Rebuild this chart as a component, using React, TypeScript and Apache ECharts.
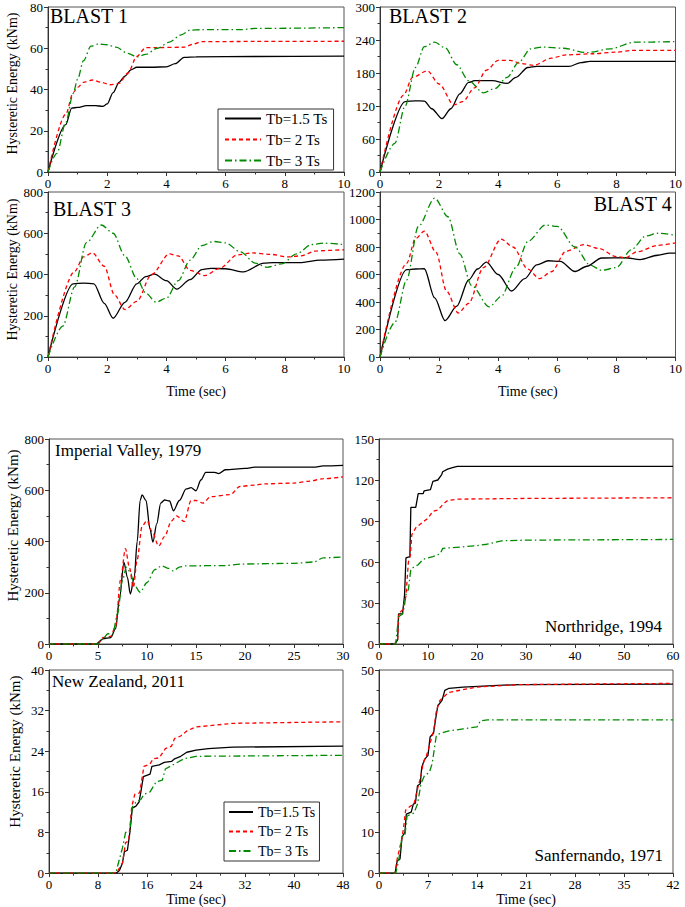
import React, { useEffect, useRef } from "react";
import * as echarts from "echarts";

type Pt = [number, number];

const seriesNames = ["Tb=1.5 Ts", "Tb= 2 Ts", "Tb= 3 Ts"];
const panelTitles = [
  "BLAST 1",
  "BLAST 2",
  "BLAST 3",
  "BLAST 4",
  "Imperial Valley, 1979",
  "Northridge, 1994",
  "New Zealand, 2011",
  "Sanfernando, 1971",
];

// BLAST 1
const blast1Tb15: Pt[] = [[0,0],[0.6,23],[0.8,31],[1.0,31.3],[1.3,32.2],[1.6,32.2],[1.85,31.8],[2.0,33],[2.2,38.5],[2.4,43.5],[2.6,46.5],[2.8,49.5],[3.0,50.8],[3.5,50.8],[4.0,51],[4.3,52.5],[4.6,55.6],[5,55.8],[7,56],[10,56.2]];
const blast1Tb2: Pt[] = [[0,0],[0.6,28],[0.85,38.5],[1.0,41],[1.2,43.5],[1.5,44.6],[1.8,43.5],[2.1,42.3],[2.4,43],[2.7,48],[3.0,56],[3.3,60.3],[3.6,60.3],[4.6,60.5],[4.9,62],[5.2,63.2],[7,63.3],[10,63.4]];
const blast1Tb3: Pt[] = [[0,0],[0.3,9],[0.6,24],[0.85,38],[1.0,45],[1.2,54],[1.45,61],[1.7,62],[2.0,61.7],[2.3,60.5],[2.7,57.5],[3.0,55.8],[3.3,57],[3.7,60],[4.1,63],[4.5,66.5],[4.8,68.8],[5.2,69],[6.5,69],[7,69.6],[10,70]];

// BLAST 2
const blast2Tb15: Pt[] = [[0,0],[0.85,128],[1.2,129.5],[1.5,129],[1.75,115],[2.1,97],[2.4,115],[2.7,142],[3.0,163],[3.2,166],[3.8,166],[4.3,161],[4.6,172],[5.0,190],[5.3,192],[6.4,192],[6.8,199],[7.1,201],[10,201]];
const blast2Tb2: Pt[] = [[0,0],[0.8,140],[1.1,172],[1.6,184],[2.0,160],[2.5,122],[2.8,128],[3.2,153],[3.6,185],[4.0,203],[4.4,203],[4.8,197],[5.2,194],[5.8,207],[6.3,213],[7.2,215],[8.0,218],[8.5,221],[10,221]];
const blast2Tb3: Pt[] = [[0,0],[0.5,52],[0.85,120],[1.2,190],[1.5,228],[1.85,236],[2.2,226],[2.6,195],[3.0,166],[3.5,144],[3.9,152],[4.3,172],[4.7,200],[5.1,224],[5.5,227],[6.2,225],[7.0,217],[7.8,224],[8.6,236],[10,237]];

// BLAST 3
const blast3Tb15: Pt[] = [[0,0],[0.85,355],[1.2,358],[1.55,355],[1.9,260],[2.2,188],[2.6,265],[3.0,355],[3.3,390],[3.6,402],[4.0,370],[4.35,329],[4.8,375],[5.2,424],[5.5,430],[6.0,428],[6.6,413],[7.3,455],[7.6,458],[8.5,458],[9.2,470],[10,475]];
const blast3Tb2: Pt[] = [[0,0],[0.9,415],[1.2,485],[1.5,505],[1.9,440],[2.25,300],[2.6,230],[3.0,270],[3.5,400],[4.1,500],[4.4,490],[4.8,420],[5.3,395],[5.8,430],[6.4,495],[6.9,505],[7.5,498],[8.1,485],[8.5,490],[9.1,515],[10,520]];
const blast3Tb3: Pt[] = [[0,0],[0.5,150],[0.9,340],[1.3,555],[1.8,640],[2.2,600],[2.6,490],[3.0,380],[3.3,310],[3.65,266],[4.0,285],[4.4,370],[4.8,470],[5.2,540],[5.6,560],[6.0,553],[6.5,510],[7.0,455],[7.4,435],[7.9,452],[8.4,500],[8.9,545],[9.3,552],[10,545]];

// BLAST 4
const blast4Tb15: Pt[] = [[0,0],[0.9,635],[1.2,640],[1.5,642],[1.85,430],[2.2,265],[2.6,370],[3.0,560],[3.3,640],[3.6,690],[4.0,600],[4.45,480],[4.9,570],[5.3,670],[5.7,700],[6.1,695],[6.6,622],[7.0,660],[7.5,720],[8.3,722],[8.8,708],[9.4,740],[9.8,755],[10,755]];
const blast4Tb2: Pt[] = [[0,0],[0.9,680],[1.2,860],[1.5,915],[1.9,760],[2.25,480],[2.65,320],[3.0,390],[3.5,650],[4.1,858],[4.5,800],[5.0,640],[5.4,570],[5.8,620],[6.3,770],[6.9,817],[7.4,790],[8.0,730],[8.3,722],[8.7,765],[9.4,812],[10,830]];
const blast4Tb3: Pt[] = [[0,0],[0.5,250],[0.9,560],[1.3,950],[1.85,1155],[2.3,1020],[2.7,750],[3.1,520],[3.7,365],[4.1,440],[4.6,650],[5.0,840],[5.6,960],[6.0,950],[6.6,800],[7.1,670],[7.5,630],[8.0,650],[8.5,780],[9.0,880],[9.4,900],[10,885]];

// Imperial Valley, 1979
const imperialTb15: Pt[] = [[0,0],[4.8,0],[5.5,20],[6.3,25],[6.8,60],[7.2,180],[7.65,318],[8.0,260],[8.3,195],[8.7,260],[9.0,400],[9.3,560],[9.5,582],[9.9,560],[10.3,450],[10.6,398],[11.0,470],[11.4,550],[11.8,562],[12.3,558],[12.7,520],[13.3,560],[14.0,605],[14.5,610],[15.0,598],[15.5,640],[16.0,670],[16.9,670],[17.3,665],[18,680],[20,685],[21,690],[27,690],[28,695],[30,697]];
const imperialTb2: Pt[] = [[0,0],[5,0],[5.5,25],[6.3,30],[6.8,70],[7.3,250],[7.8,372],[8.2,300],[8.6,220],[9.0,330],[9.5,460],[10.0,482],[10.5,440],[11.2,382],[11.8,420],[12.5,480],[13.0,500],[13.8,478],[14.5,560],[15.0,560],[15.7,550],[16.5,575],[18.5,583],[19.5,615],[21,620],[22,625],[25,628],[26.5,635],[28,645],[30,652]];
const imperialTb3: Pt[] = [[0,0],[5,0],[5.5,20],[6.0,40],[6.5,40],[7.0,120],[7.5,250],[7.9,300],[8.3,280],[8.7,230],[9.3,202],[10.0,240],[10.8,290],[11.5,305],[12.2,295],[12.7,285],[13.3,300],[14,305],[18,306],[19.5,312],[25,315],[27,320],[28,336],[30,340]];

// Northridge, 1994
const northridgeTb15: Pt[] = [[0,0],[3.2,0],[3.8,3],[4.0,22],[4.8,22],[5.2,35],[5.5,63],[6.3,64],[6.5,100],[7.5,100],[8.0,110],[9.0,110],[9.2,112],[10.5,113],[11,119],[12,120],[12.8,124],[13,126],[14,128],[15,129],[16,130],[60,130]];
const northridgeTb2: Pt[] = [[0,0],[3.2,0],[3.8,3],[4.0,22],[4.8,25],[5.5,35],[6.0,60],[6.4,65],[6.7,80],[7.5,85],[8.5,88],[10,92],[11,97],[12,98],[13,102],[14,105],[16,106],[30,106.5],[60,107]];
const northridgeTb3: Pt[] = [[0,0],[3.4,0],[4.0,20],[4.8,22],[5.2,28],[5.5,36],[6.0,40],[6.5,55],[7,56],[8,58],[9,62],[10,63],[11,64],[12.5,66],[13,70],[15,70.5],[20,72],[22,73],[25,75.5],[30,76],[60,76.5]];

// New Zealand, 2011
const newZealandTb15: Pt[] = [[0,0],[11,0],[11.5,0.5],[12,2],[12.3,4.2],[12.8,4.5],[13.2,8],[13.6,12.8],[14.2,13.2],[14.7,14],[15,16],[15.4,19],[16.5,19.5],[16.8,21],[18,21.3],[18.8,21.8],[20,22],[20.5,22.5],[21.5,23],[22.5,23.8],[24,24.2],[26,24.5],[30,24.8],[48,25]];
const newZealandTb2: Pt[] = [[0,0],[11,0],[12,2],[12.5,6],[13,6.3],[13.5,13],[14,15.5],[14.8,15.8],[15.5,21],[16.5,21.5],[17,22.5],[18,22.7],[19,24.5],[20,25],[20.5,26.5],[21.5,27],[22.5,28],[24,28.8],[26,29],[30,29.5],[48,29.8]];
const newZealandTb3: Pt[] = [[0,0],[10.5,0],[11,0.5],[12,5],[12.5,8],[13.2,8.3],[13.6,13],[14.2,14],[15,14.5],[15.5,15.5],[16.5,16],[17.5,18],[18.5,18.3],[19,20.5],[20.5,21.5],[22,22.5],[24,23],[48,23.2]];

// Sanfernando, 1971
const sanfernandoTb15: Pt[] = [[0,0],[2.3,0],[2.6,3],[3.0,3.5],[3.3,9],[3.7,10],[3.9,14.5],[4.6,15],[4.9,17],[5.2,17.2],[5.5,21.5],[5.9,22],[6.1,26],[6.5,28],[7.0,29],[7.3,33.5],[7.8,34.5],[8.1,38],[8.4,41.2],[9.0,42.5],[9.4,45],[10,45.5],[12,45.8],[17,46.2],[20,46.4],[42,46.5]];
const sanfernandoTb2: Pt[] = [[0,0],[2.3,0],[2.6,3.5],[3.2,8],[3.5,11],[3.8,15.5],[4.5,16.5],[5,17],[5.4,20],[6,24],[6.3,27],[6.8,29],[7.3,32],[7.8,35],[8.2,40],[8.7,42.5],[9.3,43.5],[10,44.5],[14,45.8],[20,46.4],[42,46.7]];
const sanfernandoTb3: Pt[] = [[0,0],[2.4,0],[2.8,3],[3.3,9],[3.7,9.2],[4.0,14],[4.5,14.5],[5.0,14.8],[5.5,17],[6.0,22],[6.5,24],[7.2,24.8],[7.6,27],[8.2,34],[9,34.5],[10,35],[12,35.5],[14,36],[14.5,37.5],[15.5,37.7],[42,37.7]];

// Axis ranges [min, max, interval]
const xRanges: [number, number, number][] = [
  [0, 10, 2], [0, 10, 2], [0, 10, 2], [0, 10, 2],
  [0, 30, 5], [0, 60, 10], [0, 48, 8], [0, 42, 7],
];
const yRanges: [number, number, number][] = [
  [0, 80, 20], [0, 300, 60], [0, 800, 200], [0, 1200, 200],
  [0, 800, 200], [0, 150, 30], [0, 40, 8], [0, 50, 10],
];

const panelData: Pt[][][] = [
  [blast1Tb15, blast1Tb2, blast1Tb3],
  [blast2Tb15, blast2Tb2, blast2Tb3],
  [blast3Tb15, blast3Tb2, blast3Tb3],
  [blast4Tb15, blast4Tb2, blast4Tb3],
  [imperialTb15, imperialTb2, imperialTb3],
  [northridgeTb15, northridgeTb2, northridgeTb3],
  [newZealandTb15, newZealandTb2, newZealandTb3],
  [sanfernandoTb15, sanfernandoTb2, sanfernandoTb3],
];

const yLabel = "Hysteretic Energy (kNm)";
const xLabel = "Time (sec)";

// Layout
const grids = [
  { left: 48, top: 7, width: 296, height: 165 },
  { left: 380, top: 7, width: 297, height: 165 },
  { left: 48, top: 192, width: 296, height: 165 },
  { left: 380, top: 192, width: 297, height: 165 },
  { left: 49, top: 439, width: 294, height: 205 },
  { left: 379, top: 439, width: 294, height: 205 },
  { left: 49, top: 670, width: 294, height: 204 },
  { left: 379, top: 670, width: 294, height: 204 },
];
const smoothing = [0.3, 0.3, 0.3, 0.3, 0.3, 0, 0, 0];
const yNamePanels: Record<number, { gap: number; size: number; shift: number }> = {
  0: { gap: 29, size: 14, shift: 12 },
  2: { gap: 29, size: 14, shift: 10 },
  4: { gap: 28, size: 15, shift: 32 },
  6: { gap: 27, size: 15, shift: 40 },
};
const xNamePanels: Record<number, number> = { 2: 27, 3: 27, 6: 15, 7: 15 };
const titlePos: any[] = [
  { left: 50, top: 6, fontSize: 20 },
  { left: 389, top: 6, fontSize: 20 },
  { left: 53, top: 199, fontSize: 20 },
  { right: 13, top: 194, fontSize: 20 },
  { left: 55, top: 442, fontSize: 17 },
  { right: 23, top: 618, fontSize: 17 },
  { left: 52, top: 673, fontSize: 17 },
  { right: 22, top: 847, fontSize: 17 },
];

const FONT = "Liberation Serif";
const AX = "#333";
const colors = ["#000000", "#ff0000", "#008a00"];
const dashTypes: any[] = ["solid", [4, 3], [7, 3, 1.5, 3]];

const labelStyle = {
  fontFamily: FONT,
  fontSize: 13,
  fontWeight: "normal",
  color: "#000",
  margin: 5,
  showMinLabel: true,
  showMaxLabel: true,
  formatter: (v: number) => `{t|${v}}`,
  rich: { t: { fontFamily: FONT, fontSize: 13, fontWeight: "normal", color: "#000" } },
};

export default function App() {
  const ref = useRef<HTMLDivElement>(null);
  useEffect(() => {
    if (!ref.current) return;
    const chart = echarts.init(ref.current, undefined, { renderer: "svg" });

    const xAxis = grids.map((_, i) => {
      const nm = xNamePanels[i];
      return {
        type: "value",
        gridIndex: i,
        min: xRanges[i][0],
        max: xRanges[i][1],
        interval: xRanges[i][2],
        name: nm !== undefined ? `{n|${xLabel}}` : "",
        nameLocation: "middle",
        nameGap: nm ?? 0,
        nameTextStyle: {
          fontFamily: FONT,
          fontSize: 14,
          fontWeight: "normal",
          color: "#000",
          rich: { n: { fontFamily: FONT, fontSize: 14, fontWeight: "normal", color: "#000" } },
        },
        axisLine: { show: true, onZero: false, lineStyle: { color: AX, width: 1 } },
        axisTick: { show: true, length: 4, lineStyle: { color: AX } },
        minorTick: { show: true, splitNumber: 2, length: 2.5, lineStyle: { color: AX } },
        splitLine: { show: false },
        axisLabel: labelStyle,
      };
    });
    const yAxis = grids.map((_, i) => {
      const nm = yNamePanels[i];
      const size = nm ? nm.size : 14;
      return {
        type: "value",
        gridIndex: i,
        min: yRanges[i][0],
        max: yRanges[i][1],
        interval: yRanges[i][2],
        name: nm ? `{n|${yLabel}}` : "",
        nameLocation: "middle",
        nameGap: nm ? nm.gap : 0,
        nameTextStyle: {
          fontFamily: FONT,
          fontSize: size,
          fontWeight: "normal",
          color: "#000",
          padding: nm ? [0, 0, 0, nm.shift] : 0,
          rich: { n: { fontFamily: FONT, fontSize: size, fontWeight: "normal", color: "#000" } },
        },
        axisLine: { show: true, onZero: false, lineStyle: { color: AX, width: 1 } },
        axisTick: { show: true, length: 4, lineStyle: { color: AX } },
        minorTick: { show: true, splitNumber: 2, length: 2.5, lineStyle: { color: AX } },
        splitLine: { show: false },
        axisLabel: labelStyle,
      };
    });

    const series: any[] = [];
    panelData.forEach((set, i) => {
      set.forEach((data, k) => {
        series.push({
          type: "line",
          name: seriesNames[k],
          xAxisIndex: i,
          yAxisIndex: i,
          data,
          symbol: "none",
          showSymbol: false,
          smooth: smoothing[i] || false,
          smoothMonotone: "x",
          lineStyle: { color: colors[k], width: 1.3, type: dashTypes[k] },
          itemStyle: { color: colors[k] },
          z: 3 + k,
        });
      });
    });

    const title = panelTitles.map((t, i) => {
      const p = titlePos[i];
      const o: any = {
        text: t,
        top: p.top,
        padding: 0,
        textStyle: { fontFamily: FONT, fontSize: p.fontSize, fontWeight: "normal", color: "#000" },
      };
      if (p.left !== undefined) o.left = p.left;
      if (p.right !== undefined) o.right = p.right;
      return o;
    });

    const legendBase = {
      orient: "vertical",
      data: seriesNames,
      selectedMode: false,
      borderColor: "#333",
      borderWidth: 1,
      backgroundColor: "#fff",
      itemStyle: { opacity: 0, color: "rgba(0,0,0,0)", borderColor: "rgba(0,0,0,0)", borderWidth: 0 },
    };

    chart.setOption({
      animation: false,
      textStyle: { fontFamily: FONT },
      title,
      grid: grids.map((g) => ({ ...g, show: true, borderColor: "#555", borderWidth: 1, backgroundColor: "transparent", containLabel: false })),
      xAxis,
      yAxis,
      legend: [
        {
          ...legendBase,
          left: 218,
          top: 109,
          itemWidth: 36,
          itemHeight: 14,
          itemGap: 6,
          padding: [2, 6, 2, 6],
          textStyle: { fontFamily: FONT, fontSize: 15, color: "#000" },
        },
        {
          ...legendBase,
          left: 224,
          top: 802,
          itemWidth: 24,
          itemHeight: 12,
          itemGap: 5.5,
          padding: [3, 4, 3, 4],
          textStyle: { fontFamily: FONT, fontSize: 14, color: "#000" },
        },
      ],
      series,
    });
    return () => chart.dispose();
  }, []);

  return (
    <div
      ref={ref}
      style={{ position: "fixed", left: 0, top: 0, width: 685, height: 907, background: "#fff" }}
    />
  );
}
